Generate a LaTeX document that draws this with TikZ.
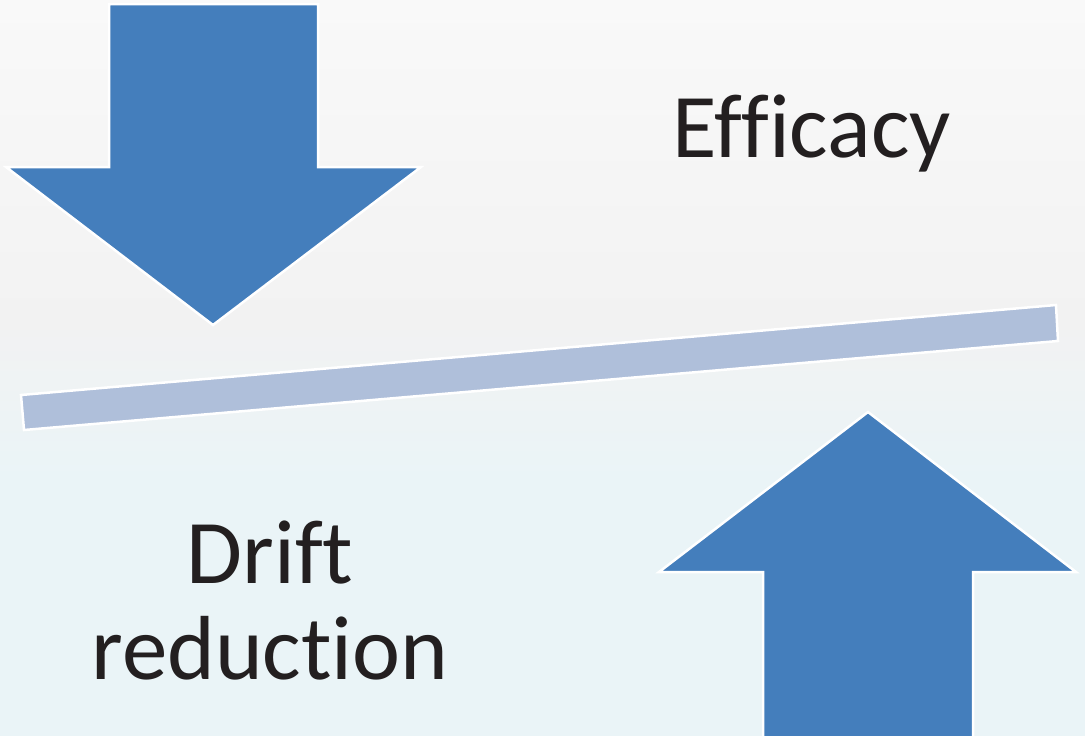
\documentclass[tikz,border=0pt]{standalone}
\usepackage{fontspec}
\setmainfont{Carlito}[Ligatures={NoCommon}]
\definecolor{arrowblue}{HTML}{447EBC}
\definecolor{beamblue}{HTML}{AFBFDA}
\definecolor{inkdark}{HTML}{231F20}
\definecolor{bgtop}{HTML}{F9F9F9}
\definecolor{bgmid}{HTML}{F2F2F2}
\definecolor{bgbot}{HTML}{EAF4F7}
\tikzset{
  blockarrow/.style={fill=arrowblue, draw=white, line width=2.5pt, line join=miter},
  beam/.style={fill=beamblue, draw=white, line width=2.5pt, line join=miter},
  label/.style={text=inkdark, font=\fontsize{91}{96}\selectfont, inner sep=0pt, align=center}
}
\begin{document}
\begin{tikzpicture}[x=1pt, y=-1pt]
  % background wash: white to grey, then grey to pale blue
  \fill[bgbot] (0,0) rectangle (1085,736);
  \shade[top color=bgtop, bottom color=bgmid] (0,0) rectangle (1085,320.5);
  \shade[top color=bgmid, bottom color=bgbot] (0,320) rectangle (1085,480.5);
  \useasboundingbox (0,0) rectangle (1085,736);

  % downward pressure arrow
  \draw[blockarrow] (109,4) -- (318,4) -- (318,167) -- (421,167) -- (213,325)
        -- (6,167) -- (109,167) -- cycle;

  % tilted balance beam
  \draw[beam] (21,395) -- (1056,305) -- (1058,341) -- (24,430) -- cycle;

  % upward pressure arrow
  \draw[blockarrow] (868,412) -- (1076,572) -- (973,572) -- (973,740)
        -- (763,740) -- (763,572) -- (659,572) -- cycle;

  % labels
  \node[label, anchor=base] (efficacy) at (812,157) {Efficacy};
  \node[label, anchor=base] (drift) at (270,583) {Drift};
  \node[label, anchor=base] (reduction) at (270,679) {reduction};
\end{tikzpicture}
\end{document}
